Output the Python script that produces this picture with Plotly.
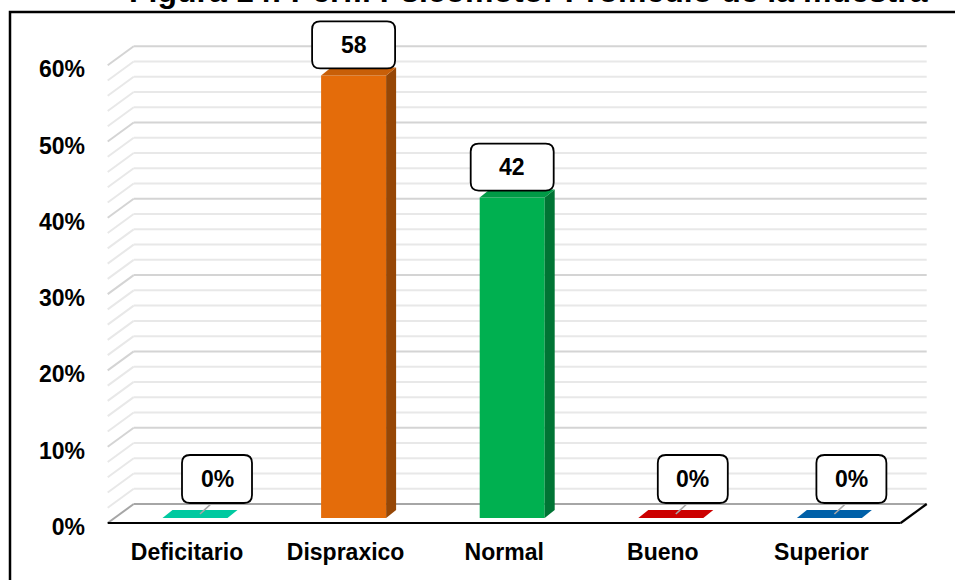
import plotly.graph_objects as go

# ---------------- data ----------------
categories = ["Deficitario", "Dispraxico", "Normal", "Bueno", "Superior"]
values = [0, 58, 42, 0, 0]
value_labels = ["0%", "58", "42", "0%", "0%"]
bar_colors = ["#00C9A0", "#E46C0A", "#00B050", "#CC0000", "#0060A8"]
y_ticks = [0, 10, 20, 30, 40, 50, 60]
y_tick_labels = ["0%", "10%", "20%", "30%", "40%", "50%", "60%"]
grid_values = list(range(0, 62, 2))
title_text = "Figura 14: Perfil Psicomotor Promedio de la muestra"

# ---------------- geometry / style ----------------
W, H = 955, 580
ML, MR, MT, MB = 100, 20, 14, 50
PXX = 158.6   # pixels per category unit
PXY = 7.63    # pixels per percent
x0 = -0.5 - 7.7 / PXX
x1 = x0 + (W - ML - MR) / PXX
y0 = -7.0 / PXY
y1 = y0 + (H - MT - MB) / PXY

def ux(px):
    return px / PXX

def uy(px):
    return px / PXY

back_dx, back_dy = ux(26), uy(19)     # depth of the floor / walls
bar_dx, bar_dy = ux(8), uy(5)         # bar front offset from floor front
face_dx, face_dy = ux(10), uy(8)      # bar depth
bar_w = ux(65)
FONT = "Arial, Liberation Sans, sans-serif"


def shade(hexc, f):
    h = hexc.lstrip("#")
    r, g, b = (int(h[i:i + 2], 16) for i in (0, 2, 4))
    return "#%02X%02X%02X" % (int(r * f), int(g * f), int(b * f))


fig = go.Figure()
shapes = []

# back wall + left side wall gridlines
for v in grid_values:
    if v == 0:
        col, wd = "#A6A6A6", 2
    elif v % 10 == 0:
        col, wd = "#D4D4D4", 2
    else:
        col, wd = "#E8E8E8", 2
    shapes.append(dict(type="line", xref="x", yref="y", layer="below",
                       x0=-0.5 + back_dx, y0=v + back_dy,
                       x1=4.5 + back_dx, y1=v + back_dy,
                       line=dict(color=col, width=wd)))
    shapes.append(dict(type="line", xref="x", yref="y", layer="below",
                       x0=-0.5, y0=v, x1=-0.5 + back_dx, y1=v + back_dy,
                       line=dict(color=col, width=wd)))

# floor front edge and right edge
shapes.append(dict(type="line", xref="x", yref="y", layer="below",
                   x0=-0.5, y0=0, x1=4.5, y1=0,
                   line=dict(color="black", width=2.2)))
shapes.append(dict(type="line", xref="x", yref="y", layer="below",
                   x0=4.5, y0=0, x1=4.5 + back_dx, y1=back_dy,
                   line=dict(color="black", width=2.2)))

# front faces of bars
fig.add_trace(go.Bar(
    x=list(range(len(categories))), y=values, base=bar_dy,
    width=bar_w, offset=-bar_w / 2 + bar_dx,
    marker=dict(color=bar_colors, line=dict(width=0)),
    hoverinfo="skip", showlegend=False))

# side and top faces
for i, (v, c) in enumerate(zip(values, bar_colors)):
    xl = i + bar_dx - bar_w / 2
    xr = i + bar_dx + bar_w / 2
    base = bar_dy
    top = v + bar_dy
    if v > 0:
        fig.add_trace(go.Scatter(
            x=[xr, xr + face_dx, xr + face_dx, xr, xr],
            y=[base, base + face_dy, top + face_dy, top, base],
            fill="toself", fillcolor=shade(c, 0.66), mode="lines",
            line=dict(width=0), hoverinfo="skip", showlegend=False))
        top_col = shade(c, 0.88)
    else:
        top_col = c
    fig.add_trace(go.Scatter(
        x=[xl, xr, xr + face_dx, xl + face_dx, xl],
        y=[top, top, top + face_dy, top + face_dy, top],
        fill="toself", fillcolor=top_col, mode="lines",
        line=dict(width=0), hoverinfo="skip", showlegend=False))

# data label boxes
annotations = []
r_x, r_y = ux(8), uy(8)
for i, (v, lab) in enumerate(zip(values, value_labels)):
    bx = i + bar_dx
    top = v + bar_dy
    if v > 0:
        cx = bx
        bw, bh = ux(83), uy(47)
        bottom = top + uy(7)
    else:
        cx = bx + ux(22)
        bw, bh = ux(70), uy(48)
        bottom = top + uy(15)
        # leader line
        shapes.append(dict(type="line", xref="x", yref="y", layer="above",
                           x0=bx + face_dx / 2, y0=top + face_dy / 2,
                           x1=cx - ux(5), y1=bottom,
                           line=dict(color="#A6A6A6", width=1.6)))
    l, r = cx - bw / 2, cx + bw / 2
    b, t = bottom, bottom + bh
    path = (f"M {l + r_x} {b} L {r - r_x} {b} Q {r} {b} {r} {b + r_y} "
            f"L {r} {t - r_y} Q {r} {t} {r - r_x} {t} "
            f"L {l + r_x} {t} Q {l} {t} {l} {t - r_y} "
            f"L {l} {b + r_y} Q {l} {b} {l + r_x} {b} Z")
    shapes.append(dict(type="path", xref="x", yref="y", layer="above",
                       path=path, fillcolor="white",
                       line=dict(color="black", width=1.8)))
    annotations.append(dict(x=cx, y=(b + t) / 2, xref="x", yref="y",
                            text=f"<b>{lab}</b>", showarrow=False,
                            font=dict(family=FONT, size=23, color="black")))

# outer frame (partially outside the page)
shapes.append(dict(type="rect", xref="paper", yref="paper",
                   x0=(10 - ML) / (W - ML - MR), y0=-0.3,
                   x1=1.2, y1=1 + (MT - 12) / (H - MT - MB),
                   line=dict(color="black", width=2.5), fillcolor="rgba(0,0,0,0)"))

# title, cut by the top of the page
annotations.append(dict(x=(528 - ML) / (W - ML - MR), y=1 + (MT - 11) / (H - MT - MB),
                        xref="paper", yref="paper", xanchor="center", yanchor="bottom",
                        text=f"<b>{title_text}</b>", showarrow=False,
                        font=dict(family=FONT, size=32, color="black")))

fig.update_layout(
    width=W, height=H,
    margin=dict(l=ML, r=MR, t=MT, b=MB, autoexpand=False),
    paper_bgcolor="white", plot_bgcolor="white",
    shapes=shapes, annotations=annotations,
    xaxis=dict(range=[x0, x1], tickvals=list(range(len(categories))),
               ticktext=[f"<b>{c}</b>" for c in categories],
               showgrid=False, zeroline=False, showline=False,
               ticks="", ticklabelstandoff=6, automargin=False,
               tickfont=dict(family=FONT, size=23, color="black")),
    yaxis=dict(range=[y0, y1], tickvals=[t - uy(4) for t in y_ticks],
               ticktext=[f"<b>{t}</b>" for t in y_tick_labels],
               showgrid=False, zeroline=False, showline=False,
               ticks="", ticklabelstandoff=14, automargin=False,
               tickfont=dict(family=FONT, size=23, color="black")),
)

fig.write_html("out.html", config={"displayModeBar": False},
               post_script="document.body.style.margin='0';document.body.style.overflow='hidden';")
